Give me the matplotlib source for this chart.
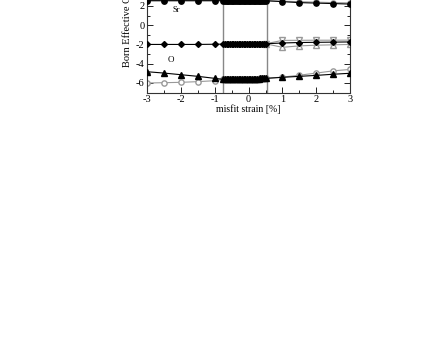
import matplotlib
matplotlib.use("Agg")
import matplotlib.pyplot as plt
from matplotlib.ticker import MultipleLocator

plt.rcParams['font.family'] = ['Liberation Serif', 'DejaVu Serif']
plt.rcParams['axes.unicode_minus'] = False

# outer strain points
x_left = [-3.0, -2.5, -2.0, -1.5, -1.0]
x_right = [1.0, 1.5, 2.0, 2.5, 3.0]
# dense points inside the stable window
x_mid = [-0.75, -0.70, -0.65, -0.60, -0.55, -0.50, -0.45, -0.40, -0.35, -0.30,
         -0.25, -0.20, -0.15, -0.10, -0.05, 0.00, 0.05, 0.10, 0.15, 0.20,
         0.25, 0.30, 0.35, 0.40, 0.45, 0.50]

# Sr
sr_left = [2.55, 2.55, 2.55, 2.55, 2.55]
sr_mid = [2.55] * 26
sr_right_a = [2.45, 2.35, 2.30, 2.25, 2.20]
sr_right_b = [2.50, 2.45, 2.40, 2.35, 2.32]

# O (middle group)
om_left = [-2.0, -2.0, -2.0, -2.0, -1.98]
om_mid = [-1.97, -1.97, -1.97, -1.97, -1.96, -1.96, -1.96, -1.96, -1.96, -1.95,
          -1.95, -1.95, -1.95, -1.95, -1.95, -1.94, -1.94, -1.94, -1.94, -1.94,
          -1.93, -1.93, -1.93, -1.93, -1.93, -1.93]
om_right_up = [-1.58, -1.57, -1.56, -1.56, -1.55]
om_right_mid = [-1.85, -1.80, -1.78, -1.76, -1.74]
om_right_lo = [-2.30, -2.15, -2.08, -2.04, -2.00]

# O (lower group)
ol_tri_left = [-4.84, -4.98, -5.15, -5.32, -5.53]
ol_tri_mid = [-5.63, -5.63, -5.62, -5.62, -5.61, -5.61, -5.60, -5.60, -5.60, -5.59,
              -5.59, -5.58, -5.58, -5.58, -5.57, -5.57, -5.56, -5.56, -5.56, -5.55,
              -5.55, -5.55, -5.54, -5.54, -5.53, -5.53]
ol_tri_right = [-5.42, -5.32, -5.22, -5.10, -5.00]
ol_circ_left = [-6.01, -5.98, -5.94, -5.87, -5.77]
ol_circ_right = [-5.40, -5.20, -4.98, -4.75, -4.60]

vlines = [-0.75, 0.55]

fig = plt.figure(figsize=(4.36, 3.37), dpi=100)
ax = fig.add_axes([0.3378, 0.7255, 0.465, 0.3994])

gray = '#999999'
ms = 3.8
lw = 0.8

for v in vlines:
    ax.axvline(v, color='#888888', lw=1.0, zorder=1)

# Sr
ax.plot(x_left + x_mid + x_right, sr_left + sr_mid + sr_right_b, color=gray, lw=lw,
        marker='o', ms=ms, mfc='white', mec=gray, zorder=2)
ax.plot(x_left + x_mid + x_right, sr_left + sr_mid + sr_right_a, color='black', lw=lw,
        marker='o', ms=ms, mfc='black', mec='black', zorder=3)

# middle O
ax.plot(x_mid[-1:] + x_right, om_mid[-1:] + om_right_up, color=gray, lw=lw,
        marker='v', ms=ms, mfc='white', mec=gray, zorder=2)
ax.plot(x_mid[-1:] + x_right, om_mid[-1:] + om_right_lo, color=gray, lw=lw,
        marker='^', ms=ms, mfc='white', mec=gray, zorder=2)
ax.plot(x_left + x_mid + x_right, om_left + om_mid + om_right_mid, color='black', lw=lw,
        marker='D', ms=3.0, mfc='black', mec='black', zorder=3)

# lower O
ax.plot(x_left + x_mid + x_right, ol_circ_left + ol_tri_mid + ol_circ_right, color=gray, lw=lw,
        marker='o', ms=ms, mfc='white', mec=gray, zorder=2)
ax.plot(x_left + x_mid + x_right, ol_tri_left + ol_tri_mid + ol_tri_right, color='black', lw=lw,
        marker='^', ms=ms, mfc='black', mec='black', zorder=3)

ax.text(-2.15, 1.6, 'Sr', fontsize=6, ha='center', va='center')
ax.text(-2.3, -3.6, 'O', fontsize=6.5, ha='center', va='center')

ax.set_xlim(-3, 3)
ax.set_ylim(-7, 7)
ax.xaxis.set_major_locator(MultipleLocator(1))
ax.xaxis.set_minor_locator(MultipleLocator(0.5))
ax.yaxis.set_major_locator(MultipleLocator(2))
ax.yaxis.set_minor_locator(MultipleLocator(1))
ax.tick_params(which='both', direction='in', top=True, right=True, labelsize=7.5, pad=2)
ax.tick_params(which='major', length=4, width=0.6)
ax.tick_params(which='minor', length=2, width=0.6)
for s in ax.spines.values():
    s.set_linewidth(0.8)
    s.set_color('#333333')

ax.set_xlabel('misfit strain [%]', fontsize=7, labelpad=0)
ax.set_ylabel('Born Effective Charge', fontsize=7.5)
ax.yaxis.set_label_coords(-0.075, 0.54)

fig.savefig('out.png', dpi=100)
